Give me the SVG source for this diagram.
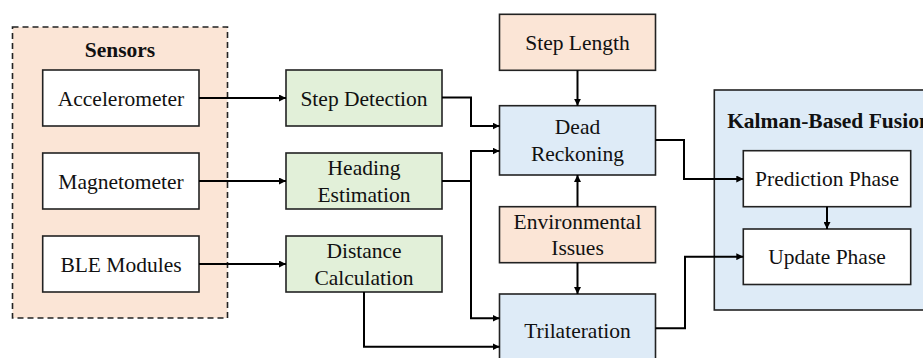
<svg xmlns="http://www.w3.org/2000/svg" width="923" height="358" viewBox="0 0 923 358">
<defs>
<marker id="ah" viewBox="0 0 10 10" refX="10" refY="5" markerWidth="7" markerHeight="7" markerUnits="userSpaceOnUse" orient="auto"><path d="M0,0 L10,5 L0,10 z" fill="#000"/></marker>
<style>
.box{stroke:#222;stroke-width:1.6}
.w{fill:#fff}.o{fill:#fbe5d6}.g{fill:#e2f0d9}.bl{fill:#deebf7}
.c{fill:none;stroke:#000;stroke-width:2;marker-end:url(#ah)}
</style>
</defs>
<g font-family="Liberation Serif, Times New Roman, serif" font-size="21.5" text-anchor="middle" fill="#111">
<g id="sensors">
<rect x="12.5" y="27" width="215" height="291" fill="#fbe5d6" stroke="#222" stroke-width="1.6" stroke-dasharray="6,4"/>
<text font-weight="bold" x="120" y="57">Sensors</text>
</g>
<g id="accelerometer"><rect class="box w" x="42.7" y="70" width="156.3" height="56"/><text x="121" y="105.5">Accelerometer</text></g>
<g id="magnetometer"><rect class="box w" x="42.7" y="153" width="156.3" height="56"/><text x="121" y="188.5">Magnetometer</text></g>
<g id="ble"><rect class="box w" x="42.7" y="236" width="156.3" height="56"/><text x="121" y="271.5">BLE Modules</text></g>
<g id="stepdetection"><rect class="box g" x="286" y="70" width="156" height="56"/><text x="364" y="105.5">Step Detection</text></g>
<g id="heading"><rect class="box g" x="286" y="153" width="156" height="56"/><text x="364" y="175">Heading</text><text x="364" y="201.5">Estimation</text></g>
<g id="distance"><rect class="box g" x="286" y="236" width="156" height="56"/><text x="364" y="258">Distance</text><text x="364" y="284.5">Calculation</text></g>
<g id="steplength"><rect class="box o" x="499.5" y="14.3" width="156" height="56"/><text x="577.5" y="49.8">Step Length</text></g>
<g id="deadreckoning"><rect class="box bl" x="499.5" y="105.7" width="156" height="69.3"/><text x="577.5" y="134.3">Dead</text><text x="577.5" y="161">Reckoning</text></g>
<g id="environmental"><rect class="box o" x="499.5" y="206.7" width="156" height="56"/><text x="577.5" y="228.7">Environmental</text><text x="577.5" y="255.3">Issues</text></g>
<g id="trilateration"><rect class="box bl" x="499.5" y="294" width="156" height="70"/><text x="577.5" y="337.5">Trilateration</text></g>
<g id="kalman">
<rect class="box bl" x="714.3" y="90" width="228" height="220"/>
<text font-weight="bold" x="829" y="127.5">Kalman-Based Fusion</text>
</g>
<g id="prediction"><rect class="box w" x="743.3" y="150.7" width="167.4" height="56"/><text x="827" y="186.2">Prediction Phase</text></g>
<g id="update"><rect class="box w" x="743.3" y="229" width="167.4" height="55.5"/><text x="827" y="264.2">Update Phase</text></g>
</g>
<g id="connectors">
<path class="c" d="M199,98 H286"/>
<path class="c" d="M199,181 H286"/>
<path class="c" d="M199,264 H286"/>
<path class="c" d="M442,97.5 H471 V126 H499.5"/>
<path class="c" d="M442,181 H471 V151 H499.5"/>
<path class="c" d="M471,181 V318.3 H499.5"/>
<path class="c" d="M364,292 V346.7 H499.5"/>
<path class="c" d="M577.5,70.3 V105.7"/>
<path class="c" d="M577.5,206.7 V175"/>
<path class="c" d="M577.5,262.7 V294"/>
<path class="c" d="M655.5,140 H684 V179 H743.3"/>
<path class="c" d="M655.5,328.3 H685 V256.7 H743.3"/>
<path class="c" d="M827,206.7 V229"/>
</g>
</svg>
